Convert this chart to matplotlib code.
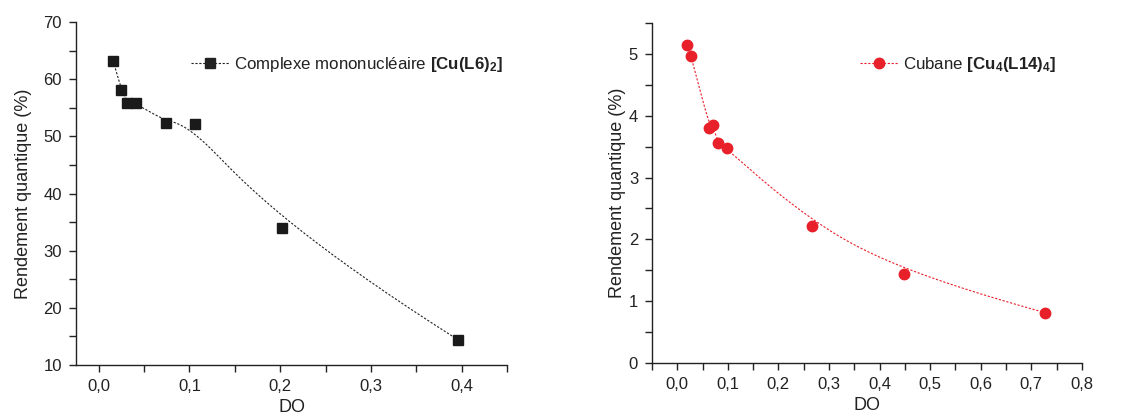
import numpy as np
import matplotlib
matplotlib.use("Agg")
import matplotlib.pyplot as plt
from matplotlib.ticker import MultipleLocator, FuncFormatter

plt.rcParams['font.family'] = ['Liberation Sans', 'DejaVu Sans']
plt.rcParams['mathtext.fontset'] = 'custom'
plt.rcParams['mathtext.rm'] = 'Liberation Sans'
plt.rcParams['mathtext.bf'] = 'Liberation Sans:bold'

# data
do_mono = [0.016, 0.025, 0.031, 0.041, 0.074, 0.106, 0.2015, 0.396]
qy_mono = [63.2, 58.1, 55.9, 55.9, 52.4, 52.2, 34.0, 14.4]

do_cub = [0.020, 0.028, 0.063, 0.070, 0.080, 0.099, 0.267, 0.449, 0.727]
qy_cub = [5.15, 4.96, 3.80, 3.85, 3.56, 3.47, 2.22, 1.445, 0.815]

label_mono = r"Complexe mononucléaire $\mathbf{[Cu(L6)_2]}$"
label_cub = r"Cubane $\mathbf{[Cu_4(L14)_4]}$"
xlabel = "DO"
ylabel = "Rendement quantique (%)"

TXT = '#222222'
RED = '#e8202a'


def bspline(x, y, n=300, k=3):
    # clamped B-spline using data points as control points (Origin style line)
    x = np.asarray(x, float)
    y = np.asarray(y, float)
    m = len(x)
    knots = np.concatenate([np.zeros(k), np.linspace(0, 1, m - k + 1), np.ones(k)])
    t = np.linspace(0, 1, n)
    t[-1] -= 1e-9

    def basis(i, d):
        if d == 0:
            return ((knots[i] <= t) & (t < knots[i + 1])).astype(float)
        out = np.zeros_like(t)
        den1 = knots[i + d] - knots[i]
        den2 = knots[i + d + 1] - knots[i + 1]
        if den1 > 0:
            out += (t - knots[i]) / den1 * basis(i, d - 1)
        if den2 > 0:
            out += (knots[i + d + 1] - t) / den2 * basis(i + 1, d - 1)
        return out

    B = np.array([basis(i, k) for i in range(m)])
    return B.T @ x, B.T @ y


comma = FuncFormatter(lambda v, p: f"{v:.1f}".replace('.', ','))

fig = plt.figure(figsize=(11.27, 4.16), dpi=100)
ax1 = fig.add_axes([0.0674, 0.1226, 0.3826, 0.8244])
ax2 = fig.add_axes([0.5785, 0.1274, 0.3815, 0.8173])

# left panel
sx, sy = bspline(do_mono, qy_mono)
ax1.plot(sx, sy, ls=(0, (2, 1.5)), color='#222222', lw=0.8)
ax1.plot(do_mono, qy_mono, ls='none', marker='s', ms=6.5, color='#1a1a1a')
ax1.plot([], [], ls=(0, (2, 1.5)), lw=0.8, color='#222222', marker='s', ms=6.5,
         label=label_mono)
ax1.set_xlim(-0.025, 0.45)
ax1.set_ylim(10, 70)
ax1.xaxis.set_major_locator(MultipleLocator(0.1))
ax1.xaxis.set_minor_locator(MultipleLocator(0.05))
ax1.yaxis.set_major_locator(MultipleLocator(10))
ax1.yaxis.set_minor_locator(MultipleLocator(5))
ax1.xaxis.set_major_formatter(comma)

# right panel
sx, sy = bspline(do_cub, qy_cub)
ax2.plot(sx, sy, ls=(0, (2, 1.5)), color=RED, lw=0.8)
ax2.plot(do_cub, qy_cub, ls='none', marker='o', ms=7.5, color=RED)
ax2.plot([], [], ls=(0, (2, 1.5)), lw=0.8, color=RED, marker='o', ms=7.5,
         label=label_cub)
ax2.set_xlim(-0.05, 0.8)
ax2.set_ylim(0, 5.5)
ax2.xaxis.set_major_locator(MultipleLocator(0.1))
ax2.xaxis.set_minor_locator(MultipleLocator(0.05))
ax2.yaxis.set_major_locator(MultipleLocator(1))
ax2.yaxis.set_minor_locator(MultipleLocator(0.5))
ax2.xaxis.set_major_formatter(comma)

for ax, anchor, ypad in ((ax1, (0.267, 0.875), 8), (ax2, (0.484, 0.879), 2)):
    for s in ('top', 'right'):
        ax.spines[s].set_visible(False)
    for s in ('left', 'bottom'):
        ax.spines[s].set_linewidth(1.0)
        ax.spines[s].set_color('#222222')
    ax.tick_params(which='both', direction='out', colors='#222222',
                   labelcolor=TXT, labelsize=12, width=1.0)
    ax.tick_params(which='major', length=5, pad=5)
    ax.tick_params(which='minor', length=5)
    ax.set_xlabel(xlabel, fontsize=13, color=TXT, labelpad=4)
    ax.set_ylabel(ylabel, fontsize=13, color=TXT, labelpad=ypad)
    leg = ax.legend(loc='center left', bbox_to_anchor=anchor, frameon=False,
                    fontsize=12.2, borderpad=0, borderaxespad=0,
                    handlelength=2.25, handletextpad=0.3)
    for t in leg.get_texts():
        t.set_color(TXT)

fig.savefig("out.png", dpi=100)
